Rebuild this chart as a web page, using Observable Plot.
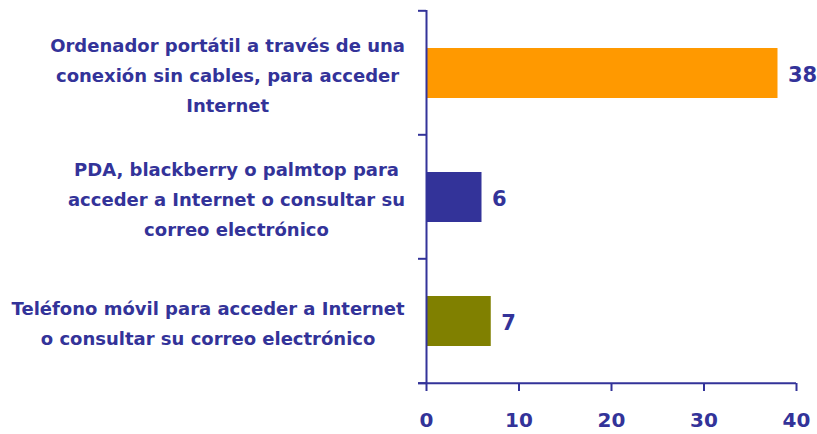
<!DOCTYPE html>
<html><head><meta charset="utf-8">
<script src="https://cdn.jsdelivr.net/npm/d3@7"></script>
<script src="https://cdn.jsdelivr.net/npm/@observablehq/plot@0.6"></script>
<style>
body{margin:0;background:#fff}
svg text{font-weight:bold}
</style>
</head><body><div id="chart"></div>
<script>
const categories = [
  "Ordenador portátil a través de una\nconexión sin cables, para acceder\nInternet",
  "PDA, blackberry o palmtop para\nacceder a Internet o consultar su\ncorreo electrónico",
  "Teléfono móvil para acceder a Internet\no consultar su correo electrónico"
];
const values = [38, 6, 7];
const colors = ["#FF9900", "#333399", "#808000"];
const xTicks = [0, 10, 20, 30, 40];

const data = categories.map((c, i) => ({category: c, value: values[i], color: colors[i]}));
const ink = "#333399";
const font = "'DejaVu Sans', sans-serif";

const plot = Plot.plot({
  width: 817, height: 434,
  marginLeft: 426, marginRight: 21, marginTop: 10, marginBottom: 51,
  style: {fontFamily: font, color: ink, background: "white", overflow: "visible"},
  x: {domain: [0, 40], ticks: xTicks, label: null, axis: null},
  y: {domain: categories, paddingInner: 0.6, paddingOuter: 0.3, axis: null},
  color: {type: "identity"},
  marks: [
    Plot.barX(data, {y: "category", x: "value", fill: "color"}),
    Plot.text(data, {y: "category", x: "value", text: d => String(d.value), textAnchor: "start", dx: 10, dy: 2, fontSize: 21, fontWeight: "bold", fill: ink}),
    Plot.text(data, {y: "category", x: 0, text: "category", textAnchor: "middle", lineHeight: 1.65, dy: -1, fontSize: 18, fontWeight: "bold", fill: ink}),
    Plot.axisX({ticks: xTicks, tickSize: 8, tickPadding: 21, fontSize: 20, fontWeight: "bold", stroke: ink, strokeWidth: 2, fill: ink, label: null}),
    Plot.ruleX([0], {stroke: ink, strokeWidth: 2})
  ]
});
document.getElementById("chart").append(plot);

const svg = d3.select(plot);
const xs = plot.scale("x"), ys = plot.scale("y");
const x0 = xs.apply(0);
// right-align label blocks (lines centered inside each block)
const svgLeft = plot.getBoundingClientRect().left;
const textGroups = svg.selectAll('g[aria-label="text"]').nodes();
d3.select(textGroups[1]).selectAll("text").each(function() {
  const r = this.getBoundingClientRect();
  const center = r.left - svgLeft + r.width / 2;
  const shift = (x0 - 21 - r.width / 2) - center;
  this.setAttribute("transform", `translate(${shift},0) ` + (this.getAttribute("transform") || ""));
});
// category boundary ticks and bottom axis line
const half = ys.step * 0.3;
const bounds = categories.map(c => ys.apply(c) - half);
bounds.push(ys.apply(categories[categories.length - 1]) + ys.bandwidth + half);
const g = svg.append("g").attr("stroke", ink).attr("stroke-width", 2);
g.selectAll("line.t").data(bounds).join("line")
  .attr("x1", x0 - 8).attr("x2", x0).attr("y1", d => d).attr("y2", d => d);
g.append("line").attr("x1", x0 - 8).attr("x2", xs.apply(40))
  .attr("y1", bounds[bounds.length - 1]).attr("y2", bounds[bounds.length - 1]);
</script>
</body></html>
